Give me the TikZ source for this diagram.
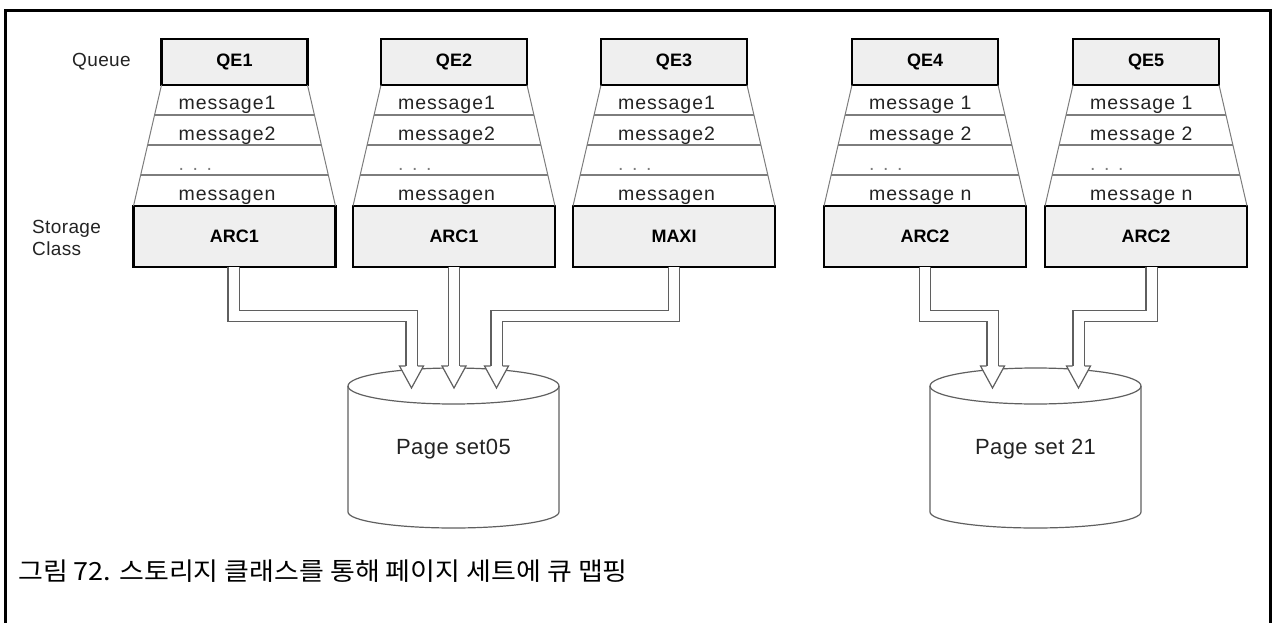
\documentclass[tikz,border=0pt]{standalone}
\usepackage{fontspec}
\usepackage{graphicx}
\setmainfont{Liberation Sans}
\newfontfamily\cjk{Noto Sans CJK KR}
\usetikzlibrary{calc}

\definecolor{boxfill}{RGB}{239,239,239}
\definecolor{rowline}{RGB}{125,125,125}
\definecolor{msgtext}{RGB}{35,35,35}
\definecolor{arrowgray}{RGB}{95,95,95}

% one queue column: #1 id, #2 x centre, #3 queue, #4 storage class, #5 #6 #7 messages
\newcommand\qcol[7]{%
  \node[qbox] (q#1) at (#2,62) {#3};
  \node[sbox] (s#1) at (#2,236.5) {#4};
  \draw[side] (q#1.south west) -- (s#1.north west);
  \draw[side] (q#1.south east) -- (s#1.north east);
  \foreach \t in {0.248,0.496,0.744}
    \draw[rowsep] ($(q#1.south west)!\t!(s#1.north west)$) -- ($(q#1.south east)!\t!(s#1.north east)$);
  \node[msg] (m#1a) at ($(q#1.south)+(-56,25)$) {#5};
  \node[msg] (m#1b) at ($(q#1.south)+(-56,55)$) {#6};
  \node[msg, text=rowline] (m#1c) at ($(q#1.south)+(-56,85)$) {. . .};
  \node[msg] (m#1d) at ($(q#1.south)+(-56,115)$) {#7};
}
% open arrow head whose base centre is the named coordinate #1
\newcommand\ahead[1]{%
  \fill[white] ($(#1)+(-12,0)$) -- ($(#1)+(0,22)$) -- ($(#1)+(12,0)$) -- cycle;
  \draw[headline] ($(#1)+(-6,0)$) -- ($(#1)+(-12,0)$) -- ($(#1)+(0,22)$) -- ($(#1)+(12,0)$) -- ($(#1)+(6,0)$);
}
% cylinder drawn around the named node #1
\newcommand\cyl[1]{%
  \draw[cylline] (#1.north west) -- (#1.south west) arc[start angle=180, end angle=360, x radius=105.5pt, y radius=16pt] -- (#1.north east);
  \draw[cylline] (#1.north) ellipse[x radius=105.5pt, y radius=18pt];
}

\begin{document}
\begin{tikzpicture}[x=1pt,y=-1pt,
  qbox/.style={draw=black, line width=2.2pt, fill=boxfill, minimum width=146pt, minimum height=46pt, inner sep=0pt, outer sep=0pt, font=\fontsize{18}{20}\selectfont\bfseries},
  sbox/.style={draw=black, line width=2.2pt, fill=boxfill, minimum width=202pt, minimum height=61pt, inner sep=0pt, outer sep=0pt, font=\fontsize{18}{20}\selectfont\bfseries},
  side/.style={draw=rowline, line width=1pt},
  rowsep/.style={draw=rowline, line width=1.3pt},
  msg/.style={anchor=base west, inner sep=0pt, text=msgtext, font=\fontsize{19.5}{22}\selectfont\addfontfeature{LetterSpace=5}},
  lbl/.style={inner sep=0pt, text=msgtext, font=\fontsize{19}{22}\selectfont\addfontfeature{LetterSpace=2}},
  shaft/.style={draw=arrowgray, line width=1.2pt, double=white, double distance=10pt},
  headline/.style={draw=arrowgray, line width=1.2pt, line join=miter},
  cylline/.style={draw=arrowgray, line width=1.2pt},
  pset/.style={inner sep=0pt, outer sep=0pt, minimum width=211pt, minimum height=126pt, text=msgtext, font=\fontsize{22}{25}\selectfont\addfontfeature{LetterSpace=2}},
]
\useasboundingbox (0,0) rectangle (1274,623);
\draw[line width=3pt] (5.5,623) -- (5.5,10.5) -- (1270.5,10.5) -- (1270.5,623);

\node[lbl, anchor=west] (queue) at (72,62) {Queue};
\node[lbl, anchor=west, align=left] (sclass) at (32,237.5) {Storage\\Class};

\qcol{1}{234.5}{QE1}{ARC1}{message1}{message2}{messagen}
\qcol{2}{454}{QE2}{ARC1}{message1}{message2}{messagen}
\qcol{3}{674}{QE3}{MAXI}{message1}{message2}{messagen}
\qcol{4}{925}{QE4}{ARC2}{message 1}{message 2}{message n}
\qcol{5}{1146}{QE5}{ARC2}{message 1}{message 2}{message n}

\node[pset] (p05) at (453.5,449) {Page set05};
\node[pset] (p21) at (1035.5,449) {Page set 21};
\cyl{p05}
\cyl{p21}

\coordinate (h1) at ($(p05.north)+(-42,-20)$);
\coordinate (h2) at ($(p05.north)+(0.5,-20)$);
\coordinate (h3) at ($(p05.north)+(43,-20)$);
\coordinate (h4) at ($(p21.north)+(-43,-20)$);
\coordinate (h5) at ($(p21.north)+(43,-20)$);

\draw[shaft] ($(s1.south)+(-1,0)$) -- ++(0,49) -| (h1);
\draw[shaft] (h2 |- s2.south) -- (h2);
\draw[shaft] (s3.south) -- ++(0,49) -| (h3);
\draw[shaft] (s4.south) -- ++(0,49) -| (h4);
\draw[shaft] ($(s5.south)+(5.5,0)$) -- ++(0,49) -| (h5);
\ahead{h1}
\ahead{h2}
\ahead{h3}
\ahead{h4}
\ahead{h5}

\node[anchor=west, inner sep=0pt, text=black, font=\cjk\fontsize{25}{29}\selectfont] (cap) at (18,571) {\scalebox{1.08}[1]{그림 72. 스토리지 클래스를 통해 페이지 세트에 큐 맵핑}};
\end{tikzpicture}
\end{document}
